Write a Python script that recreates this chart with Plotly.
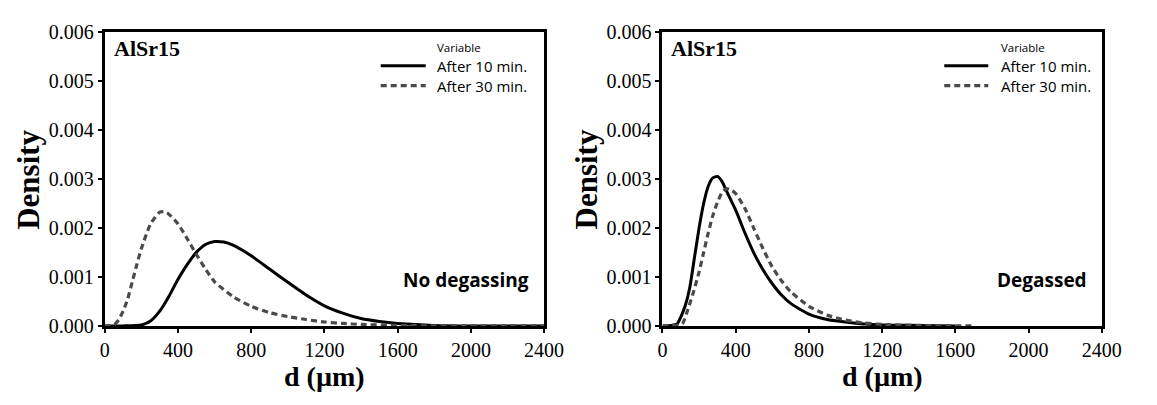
import plotly.graph_objects as go

# ---- data ----
left_10_d = [0, 100, 200, 250, 300, 350, 400, 450, 500, 550, 600, 650, 700, 750, 800, 900, 1000,
             1100, 1200, 1300, 1400, 1500, 1600, 1700, 1800, 2000, 2200, 2400]
left_10_v = [0, 0, 0.00002, 0.0001, 0.0003, 0.0006, 0.00095, 0.00125, 0.0015, 0.00166, 0.00172,
             0.00171, 0.00165, 0.00155, 0.00143, 0.00116, 0.00089, 0.00063, 0.00041, 0.00026,
             0.00015, 0.00009, 0.00005, 0.00003, 0.00001, 0, 0, 0]

left_30_d = [0, 50, 75, 100, 125, 150, 175, 200, 250, 300, 325, 350, 400, 450, 500, 550, 600, 700,
             800, 900, 1000, 1100, 1200, 1300, 1400, 1600, 1800, 2000, 2200, 2400]
left_30_v = [0, 0.00002, 0.00012, 0.0003, 0.00055, 0.0009, 0.00125, 0.00158, 0.00208, 0.00232,
             0.00233, 0.00228, 0.00208, 0.00178, 0.00146, 0.00116, 0.0009, 0.0006, 0.0004, 0.00027,
             0.00019, 0.00013, 0.00008, 0.00005, 0.00003, 0.00001, 0, 0, 0, 0]

right_10_d = [0, 50, 80, 100, 125, 150, 175, 200, 225, 250, 275, 300, 325, 350, 400, 450, 500, 550,
              600, 650, 700, 800, 900, 1000, 1100, 1200, 1400, 1600]
right_10_v = [0, 0.00001, 0.00004, 0.00018, 0.00042, 0.0008, 0.0014, 0.002, 0.0025, 0.00285,
              0.00302, 0.00305, 0.00295, 0.00275, 0.00236, 0.0019, 0.00148, 0.00114, 0.00086,
              0.00063, 0.00046, 0.00024, 0.00013, 0.00008, 0.00004, 0.00002, 0.00001, 0]

right_30_d = [0, 50, 90, 110, 140, 170, 200, 225, 250, 275, 300, 325, 350, 375, 400, 450, 500, 550,
              600, 650, 700, 800, 900, 1000, 1100, 1200, 1400, 1700]
right_30_v = [0, 0.00001, 0.00002, 0.00005, 0.00035, 0.0007, 0.0011, 0.0015, 0.0019, 0.00225,
              0.00252, 0.00272, 0.0028, 0.00277, 0.0027, 0.0024, 0.00198, 0.00157, 0.0012, 0.00092,
              0.0007, 0.0004, 0.00022, 0.00012, 0.00006, 0.00003, 0.00001, 0]

series_names = ["After 10 min.", "After 30 min."]
legend_title = "Variable"
x_ticks = [0, 400, 800, 1200, 1600, 2000, 2400]
y_ticks = [0.000, 0.001, 0.002, 0.003, 0.004, 0.005, 0.006]
panel_labels = ["No degassing", "Degassed"]

W, H = 1157, 405
SERIF = "Liberation Serif"
SANS = "Open Sans"

SOLID_COLOR = "black"
DASH_COLOR = "#4a4a4a"
DASH = "6px,4px"

fig = go.Figure()

solid = dict(color=SOLID_COLOR, width=3, shape="spline", smoothing=0.6)
dashed = dict(color=DASH_COLOR, width=3.2, dash=DASH, shape="spline", smoothing=0.6)

fig.add_trace(go.Scatter(x=left_10_d, y=left_10_v, mode="lines", line=solid,
                         name=series_names[0], xaxis="x", yaxis="y"))
fig.add_trace(go.Scatter(x=left_30_d, y=left_30_v, mode="lines", line=dashed,
                         name=series_names[1], xaxis="x", yaxis="y"))
fig.add_trace(go.Scatter(x=right_10_d, y=right_10_v, mode="lines", line=solid,
                         name=series_names[0], xaxis="x2", yaxis="y2"))
fig.add_trace(go.Scatter(x=right_30_d, y=right_30_v, mode="lines", line=dashed,
                         name=series_names[1], xaxis="x2", yaxis="y2"))


def px_x(p):
    return p / W


def px_y(p):
    return 1 - p / H


ydom = [px_y(333), px_y(22)]
panels = [(102, 551), (672, 1121)]

axis_common = dict(
    showline=True, linecolor="black", linewidth=3, mirror=True,
    ticks="outside", ticklen=4, tickwidth=2, tickcolor="black",
    showgrid=False, zeroline=False,
    tickfont=dict(family=SERIF, size=20, color="black"),
)

fig.update_layout(
    width=W, height=H,
    margin=dict(l=0, r=0, t=0, b=0),
    paper_bgcolor="white", plot_bgcolor="white",
    showlegend=False,
    xaxis=dict(domain=[px_x(panels[0][0]), px_x(panels[0][1])], range=[0, 2400],
               tickvals=x_ticks, anchor="y", **axis_common),
    yaxis=dict(domain=ydom, range=[0, 0.006], tickvals=y_ticks, tickformat=".3f",
               anchor="x", **axis_common),
    xaxis2=dict(domain=[px_x(panels[1][0]), px_x(panels[1][1])], range=[0, 2400],
                tickvals=x_ticks, anchor="y2", **axis_common),
    yaxis2=dict(domain=ydom, range=[0, 0.006], tickvals=y_ticks, tickformat=".3f",
                anchor="x2", **axis_common),
)

annotations = []
shapes = []
# legend line start/end offsets and text offset (from panel left edge)
legend_geo = [(282, 328, 337), (288, 333, 344)]
row_y = [58, 79]
for (xl, xr), lab, (l0, l1, tx) in zip(panels, panel_labels, legend_geo):
    cx = (xl + xr) / 2
    annotations += [
        dict(text="AlSr15", x=px_x(xl + 7), y=px_y(40), xref="paper", yref="paper",
             xanchor="left", yanchor="middle", showarrow=False,
             font=dict(family=SERIF, size=22, color="black", weight="bold")),
        dict(text=lab, x=px_x(xr - 13), y=px_y(284), xref="paper", yref="paper",
             xanchor="right", yanchor="middle", showarrow=False,
             font=dict(family=SANS, size=19, color="black", weight="bold")),
        dict(text=legend_title, x=px_x(xl + tx), y=px_y(39), xref="paper", yref="paper",
             xanchor="left", yanchor="middle", showarrow=False,
             font=dict(family=SANS, size=11.5, color="black")),
        dict(text="d (µm)", x=px_x(cx), y=px_y(387), xref="paper", yref="paper",
             xanchor="center", yanchor="middle", showarrow=False,
             font=dict(family=SERIF, size=28, color="black", weight="bold")),
        dict(text="Density", x=px_x(xl - 78), y=px_y(178), xref="paper", yref="paper",
             xanchor="center", yanchor="middle", showarrow=False, textangle=-90,
             font=dict(family=SERIF, size=31, color="black", weight="bold")),
    ]
    for name, ry, sty in zip(series_names, row_y,
                             [("solid", SOLID_COLOR, 3), (DASH, DASH_COLOR, 3.2)]):
        annotations.append(dict(text=name, x=px_x(xl + tx), y=px_y(ry), xref="paper", yref="paper",
                                xanchor="left", yanchor="middle", showarrow=False,
                                font=dict(family=SANS, size=15, color="black")))
        shapes.append(dict(type="line", xref="paper", yref="paper",
                           x0=px_x(xl + l0), x1=px_x(xl + l1), y0=px_y(ry), y1=px_y(ry),
                           line=dict(color=sty[1], width=sty[2], dash=sty[0])))

fig.update_layout(annotations=annotations, shapes=shapes)

fig.write_html("out.html")
